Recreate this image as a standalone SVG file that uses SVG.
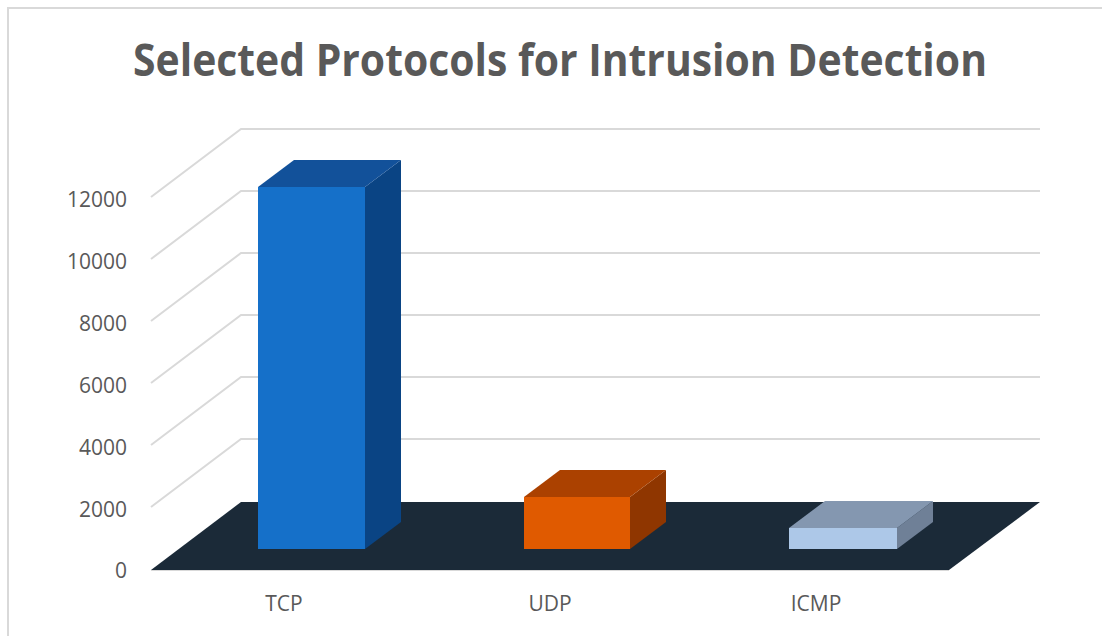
<svg xmlns="http://www.w3.org/2000/svg" width="1102" height="636" viewBox="0 0 1102 636">
  <style>
    .title { font-family: "Open Sans", "Liberation Sans", sans-serif; font-weight: 700; font-size: 44px; fill: #595959; }
    .axis { font-family: "Open Sans", "Liberation Sans", sans-serif; font-size: 21px; fill: #595959; }
    .grid { stroke: #D9D9D9; stroke-width: 2; fill: none; }
    .frame { stroke: #D9D9D9; stroke-width: 2; fill: none; }
  </style>

  <rect width="1102" height="636" fill="#FFFFFF"/>
  <!-- chart frame: top and left edges -->
  <path class="frame" d="M8,636 V8 H1102"/>

  <text class="title" x="560" y="76" text-anchor="middle" textLength="854" lengthAdjust="spacingAndGlyphs">Selected Protocols for Intrusion Detection</text>

  <!-- back wall and side wall gridlines -->
  <g id="gridlines">
    <path class="grid" d="M151,197 L241,129 H1040"/>
    <path class="grid" d="M151,259 L241,191 H1040"/>
    <path class="grid" d="M151,321 L241,253 H1040"/>
    <path class="grid" d="M151,383 L241,315 H1040"/>
    <path class="grid" d="M151,445 L241,377 H1040"/>
    <path class="grid" d="M151,507 L241,439 H1040"/>
  </g>

  <!-- value axis -->
  <g id="value-axis" class="axis" text-anchor="end">
    <text x="127" y="207">12000</text>
    <text x="127" y="269">10000</text>
    <text x="127" y="331">8000</text>
    <text x="127" y="393">6000</text>
    <text x="127" y="455">4000</text>
    <text x="127" y="517">2000</text>
    <text x="127" y="578">0</text>
  </g>

  <!-- floor -->
  <g id="floor">
    <polygon points="241,502 1040,502 949,570 151,570" fill="#1B2A38"/>
    <line x1="151" y1="570.5" x2="949" y2="570.5" stroke="#D9D9D9" stroke-width="1"/>
  </g>

  <!-- TCP bar -->
  <g id="bar-tcp">
    <polygon points="365,187 401,160 401,522 365,549" fill="#0A4484"/>
    <polygon points="258,187 294,160 401,160 365,187" fill="#12519A"/>
    <rect x="258" y="187" width="107" height="362" fill="#1570C9"/>
  </g>

  <!-- UDP bar -->
  <g id="bar-udp">
    <polygon points="630,497 666,470 666,522 630,549" fill="#8F3600"/>
    <polygon points="524,497 560,470 666,470 630,497" fill="#AB4100"/>
    <rect x="524" y="497" width="106" height="52" fill="#E05A00"/>
  </g>

  <!-- ICMP bar -->
  <g id="bar-icmp">
    <polygon points="897,528 933,501 933,522 897,549" fill="#6F8097"/>
    <polygon points="789,528 825,501 933,501 897,528" fill="#8497B0"/>
    <rect x="789" y="528" width="108" height="21" fill="#ADC8E8"/>
  </g>

  <!-- category axis -->
  <g id="category-axis" class="axis" text-anchor="middle">
    <text x="284" y="611">TCP</text>
    <text x="550" y="611">UDP</text>
    <text x="816" y="611">ICMP</text>
  </g>
</svg>
